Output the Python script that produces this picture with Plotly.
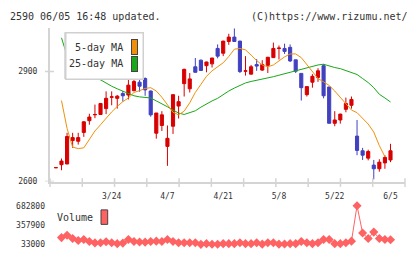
import plotly.graph_objects as go

# ---------------- data ----------------
dates = ["3/7", "3/10", "3/11", "3/12", "3/13", "3/14", "3/17", "3/18", "3/19", "3/21",
         "3/24", "3/25", "3/26", "3/27", "3/28", "3/31", "4/1", "4/2", "4/3", "4/4",
         "4/7", "4/8", "4/9", "4/10", "4/11", "4/14", "4/15", "4/16", "4/17", "4/18",
         "4/21", "4/22", "4/23", "4/24", "4/25", "4/28", "4/30", "5/1", "5/2", "5/7",
         "5/8", "5/9", "5/12", "5/13", "5/14", "5/15", "5/16", "5/19", "5/20", "5/21",
         "5/22", "5/23", "5/26", "5/27", "5/28", "5/29", "5/30", "6/2", "6/3", "6/4", "6/5"]

open_ = [2638, 2646, 2648, 2712, 2710, 2734, 2766, 2782, 2783, 2799,
         2830, 2827, 2840, 2836, 2848, 2871, 2881, 2847, 2732, 2753,
         2696, 2751, 2806, 2867, 2853, 2913, 2931, 2916, 2921, 2963,
         2950, 2982, 2994, 2983, 2901, 2893, 2919, 2904, 2917, 2938,
         2963, 2963, 2966, 2932, 2895, 2837, 2871, 2884, 2916, 2858,
         2759, 2768, 2797, 2808, 2724, 2684, 2664, 2645, 2635, 2651, 2659]
high = [2638, 2663, 2733, 2733, 2733, 2765, 2785, 2810, 2814, 2846,
        2846, 2836, 2847, 2884, 2896, 2884, 2884, 2848, 2787, 2792,
        2753, 2838, 2834, 2908, 2896, 2937, 2933, 2927, 2937, 2974,
        2984, 3003, 3018, 2984, 2942, 2918, 2934, 2931, 2940, 2979,
        2971, 2976, 2974, 2932, 2895, 2859, 2893, 2909, 2920, 2858,
        2792, 2785, 2829, 2832, 2768, 2692, 2687, 2659, 2661, 2672, 2703]
low = [2638, 2631, 2648, 2692, 2701, 2722, 2755, 2773, 2782, 2784,
       2808, 2799, 2818, 2824, 2846, 2845, 2834, 2777, 2717, 2738,
       2643, 2730, 2772, 2832, 2843, 2897, 2903, 2898, 2911, 2936,
       2942, 2973, 2982, 2896, 2889, 2892, 2902, 2902, 2896, 2937,
       2933, 2948, 2926, 2896, 2821, 2832, 2856, 2872, 2827, 2759,
       2751, 2758, 2789, 2799, 2672, 2659, 2658, 2606, 2627, 2635, 2653]
close = [2638, 2656, 2723, 2720, 2720, 2763, 2776, 2783, 2813, 2827,
         2831, 2833, 2834, 2863, 2873, 2860, 2850, 2782, 2787, 2782,
         2718, 2837, 2818, 2906, 2880, 2898, 2903, 2926, 2937, 2942,
         2983, 2994, 2982, 2900, 2902, 2913, 2915, 2919, 2939, 2963,
         2964, 2955, 2929, 2901, 2856, 2859, 2887, 2902, 2834, 2759,
         2768, 2784, 2813, 2824, 2685, 2672, 2682, 2635, 2653, 2666, 2684]

ma5 = [None, 2821, 2745, 2694, 2690, 2692, 2715, 2738, 2755, 2773,
       2790, 2805, 2818, 2828, 2843, 2848, 2854, 2856, 2847, 2830,
       2808, 2789, 2782, 2792, 2815, 2843, 2865, 2887, 2902, 2913,
       2924, 2941, 2961, 2963, 2959, 2945, 2930, 2918, 2913, 2918,
       2929, 2940, 2948, 2948, 2938, 2920, 2900, 2881, 2872, 2862,
       2847, 2830, 2812, 2795, 2788, 2773, 2757, 2735, 2698, 2668, None]
ma25 = [None, 2992, 2943, 2928, 2915, 2904, 2895, 2886, 2877, 2868,
        2860, 2853, 2846, 2840, 2834, 2831, 2830, 2828, 2820, 2813,
        2804, 2795, 2787, 2783, 2787, 2793, 2803, 2812, 2820, 2827,
        2838, 2847, 2855, 2863, 2869, 2873, 2876, 2878, 2882, 2886,
        2890, 2894, 2898, 2903, 2907, 2911, 2915, 2918, 2920, 2915,
        2911, 2908, 2903, 2899, 2892, 2881, 2870, 2856, 2838, 2828, 2817]

volume = [None, 146700, 187300, 130500, 98000, 114200, 81700, 57400, 60600, 76900,
          60600, 44400, 54100, 114200, 81700, 73600, 70400, 81700, 86600, 81700,
          114200, 81700, 60600, 60600, 60600, 60600, 33000, 44400, 35000, 34000,
          44400, 44400, 44400, 60600, 44400, 44400, 60600, 36000, 60600, 60600,
          36000, 38000, 44400, 44400, 81700, 60600, 44400, 60600, 114200, 114200,
          44400, 44400, 60600, 86600, 682800, 223000, 130500, 239300, 130500, 114200, 109400]

label_dates = ["3/24", "4/7", "4/21", "5/8", "5/22", "6/5"]
price_ticks = [2600, 2900]
volume_ticks = [33000, 357900, 682800]

title_left = "2590 06/05 16:48 updated."
title_right = "(C)https://www.rizumu.net/"
ma5_name = "5-day MA"
ma25_name = "25-day MA"
vol_name = "Volume"

# ---------------- styling ----------------
W, H = 420, 259
RED = "#d80000"
BLUE = "#4040c0"
ORANGE = "#f0900a"
GREEN = "#18a818"
VOLC = "#ff6262"
AXC = "#d4d4d4"
TXT = "#333333"
FONT = "DejaVu Sans Mono"

def px(x):
    return x / W

def py(y):
    return 1 - y / H

idx = list(range(len(dates)))
xr = [-1.06, 62.6]
x_dom = [px(50), px(405)]

fig = go.Figure()
fig.add_trace(go.Candlestick(
    x=idx, open=open_, high=high, low=low, close=close,
    increasing=dict(line=dict(color=RED, width=1), fillcolor=RED),
    decreasing=dict(line=dict(color=BLUE, width=1), fillcolor=BLUE),
    whiskerwidth=0, showlegend=False, hoverinfo="skip", xaxis="x", yaxis="y"))
fig.add_trace(go.Scatter(x=idx, y=ma25, mode="lines", line=dict(color=GREEN, width=1),
                         showlegend=False, hoverinfo="skip", xaxis="x", yaxis="y"))
fig.add_trace(go.Scatter(x=idx, y=ma5, mode="lines", line=dict(color=ORANGE, width=1),
                         showlegend=False, hoverinfo="skip", xaxis="x", yaxis="y"))
fig.add_trace(go.Scatter(x=idx, y=volume, mode="lines+markers",
                         line=dict(color=VOLC, width=1),
                         marker=dict(symbol="diamond", size=7, color=VOLC),
                         cliponaxis=False, showlegend=False, hoverinfo="skip",
                         xaxis="x2", yaxis="y2"))

tick_font = dict(family=FONT, size=8, color=TXT)
fig.update_layout(
    width=W, height=H, margin=dict(l=0, r=0, t=0, b=0),
    paper_bgcolor="white", plot_bgcolor="white", showlegend=False,
    boxgap=0.2, hovermode=False,
    xaxis=dict(domain=x_dom, range=xr, anchor="y", showgrid=False, zeroline=False,
               showline=True, linecolor=AXC, linewidth=2,
               tickvals=[dates.index(d) for d in label_dates], ticktext=label_dates,
               ticks="", tickfont=tick_font, ticklabelstandoff=6,
               rangeslider=dict(visible=False)),
    yaxis=dict(domain=[py(184), py(25)], range=[2600, 3018.4], anchor="x",
               showgrid=False, zeroline=False, showline=True, linecolor=AXC, linewidth=2,
               tickvals=price_ticks, ticks="", tickfont=tick_font, ticklabelstandoff=9),
    xaxis2=dict(domain=x_dom, range=xr, anchor="y2", visible=False),
    yaxis2=dict(domain=[py(249), py(209)], range=[33000, 682800], anchor="x2",
                showgrid=False, zeroline=False, showline=False,
                tickvals=volume_ticks, ticktext=[str(v) for v in volume_ticks],
                ticks="", tickfont=tick_font, ticklabelstandoff=4),
)

shapes = []
for k in range(12):
    xx = 50 + k * (405 - 50) / 11
    shapes.append(dict(type="line", xref="paper", yref="paper",
                       x0=px(xx), x1=px(xx), y0=py(180.5), y1=py(189.5),
                       line=dict(color=AXC, width=1.5)))
for v in price_ticks:
    shapes.append(dict(type="line", xref="paper", yref="y",
                       x0=px(45), x1=px(54), y0=v, y1=v,
                       line=dict(color=AXC, width=1.5)))
# legend frame drawn above the traces
shapes.append(dict(type="rect", xref="paper", yref="paper", layer="above",
                   x0=px(65), x1=px(143), y0=py(77), y1=py(30),
                   fillcolor="white", opacity=1, line=dict(color="#d0d0d0", width=1.5)))
shapes.append(dict(type="rect", xref="paper", yref="paper", layer="above",
                   x0=px(101), x1=px(107.7), y0=py(228.3), y1=py(213.3),
                   fillcolor=VOLC, line=dict(color="#444444", width=1)))
fig.update_layout(shapes=shapes)

big_font = dict(family=FONT, size=10, color=TXT)
ann = []
ann.append(dict(text=" ", x=px(104), y=py(53.5), xanchor="center", yanchor="middle",
                width=76, height=45, bgcolor="white", bordercolor="#d0d0d0",
                borderwidth=1.5, borderpad=0, font=dict(size=6)))
for c, ymid in [(ORANGE, 44.5), (GREEN, 61.8)]:
    ann.append(dict(text=" ", x=px(134.3), y=py(ymid), xanchor="center", yanchor="middle",
                    width=5, height=13.5, bgcolor=c, bordercolor="#444444",
                    borderwidth=1, borderpad=0, font=dict(size=6)))
ann += [
    dict(text=title_left, x=px(8), y=py(13), xanchor="left", yanchor="middle", font=big_font),
    dict(text=title_right, x=px(410), y=py(13), xanchor="right", yanchor="middle", font=big_font),
    dict(text=ma5_name, x=px(125), y=py(45), xanchor="right", yanchor="middle", font=big_font),
    dict(text=ma25_name, x=px(125), y=py(62), xanchor="right", yanchor="middle", font=big_font),
    dict(text=vol_name, x=px(95), y=py(221), xanchor="right", yanchor="middle", font=big_font),
]
for a in ann:
    a.update(xref="paper", yref="paper", showarrow=False)
fig.update_layout(annotations=ann)

fig.write_html("out.html", config={"displayModeBar": False, "staticPlot": True},
               post_script="document.body.style.margin='0';")
